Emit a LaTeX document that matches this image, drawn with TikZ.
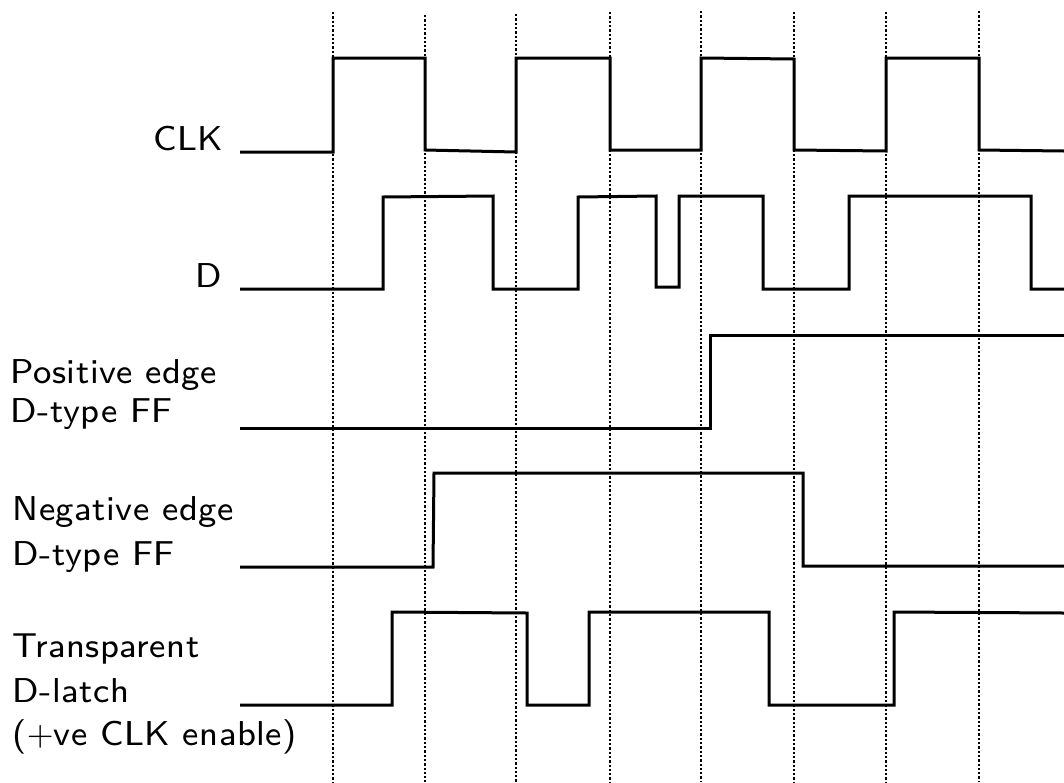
\documentclass[tikz,border=0pt]{standalone}
\usepackage{fontspec}
\newfontfamily\labfont[LetterSpace=1.5]{lmsans8-regular.otf}
\begin{document}
\begin{tikzpicture}[x=1pt,y=-1pt,
  wave/.style={line width=3pt, line join=miter, black},
  grid/.style={line width=2.7pt, dash pattern=on 2.3pt off 2pt, black},
  lab/.style={font=\labfont, scale=3.45, inner sep=0pt}]
\useasboundingbox (0,0) rectangle (1064,782);
% dotted time markers
\foreach \x/\t in {333/12,425/15,516/14,610/12,701/11,794/12,886/12,979/11}
  \draw[grid] (\x,\t) -- (\x,782);
% labels
\node[lab, anchor=base east] (clk) at (224,150) {CLK};
\node[lab, anchor=base east] (d) at (223,287) {D};
\node[lab, anchor=base west] (p1) at (10,383) {Positive edge};
\node[lab, anchor=base west] (p2) at (10,422) {D-type FF};
\node[lab, anchor=base west] (n1) at (12,520) {Negative edge};
\node[lab, anchor=base west] (n2) at (12,565) {D-type FF};
\node[lab, anchor=base west] (t1) at (12,657) {Transparent};
\node[lab, anchor=base west] (t2) at (12,702) {D-latch};
\node[lab, anchor=base west] (t3) at (12,745) {($+$ve CLK enable)};
% CLK
\draw[wave] (240,152) -- (333,152) -- (333,58) -- (425,58) -- (425,150) -- (516,152)
  -- (516,58) -- (610,58) -- (610,150) -- (701,150) -- (701,58) -- (794,59) -- (794,150)
  -- (886,151) -- (886,58) -- (979,58) -- (979,150) -- (1064,151);
% D
\draw[wave] (240,289) -- (383,289) -- (383,197) -- (493,196) -- (493,289) -- (578,289)
  -- (578,197) -- (656,196) -- (656,287) -- (679,287) -- (679,196) -- (763,196)
  -- (763,289) -- (849,289) -- (849,196) -- (1031,196) -- (1031,289) -- (1064,289);
% Positive edge FF
\draw[wave] (240,428) -- (698,428) -- (710,428) -- (710,335) -- (1064,335);
% Negative edge FF
\draw[wave] (240,567) -- (433,567) -- (434,473) -- (803,473) -- (803,566) -- (1064,566);
% Transparent latch
\draw[wave] (240,705) -- (392,705) -- (392,612) -- (527,613) -- (527,705) -- (589,705)
  -- (589,612) -- (769,612) -- (769,705) -- (894,705) -- (894,612) -- (1064,613);
\end{tikzpicture}
\end{document}
